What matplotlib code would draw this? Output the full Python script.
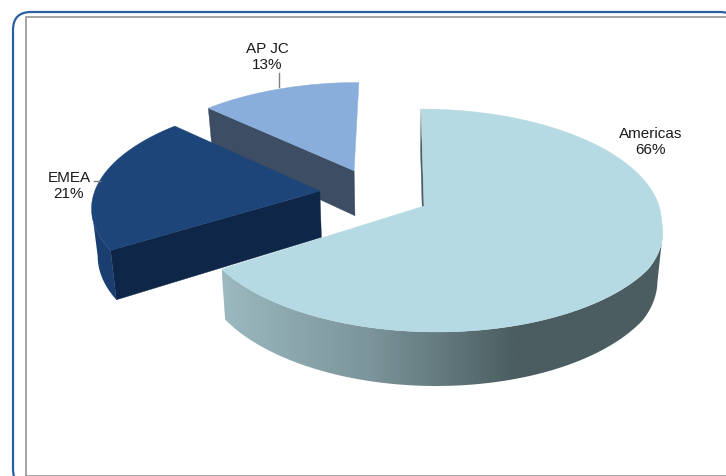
import matplotlib
matplotlib.use("Agg")
import matplotlib.pyplot as plt
from matplotlib.colors import LinearSegmentedColormap
from matplotlib.patches import FancyBboxPatch, Polygon, Rectangle
import numpy as np

plt.rcParams['font.family'] = ['Liberation Sans', 'DejaVu Sans']

categories = ["Americas", "EMEA", "AP JC"]
shares = [66, 21, 13]
top_colors = ["#b5dae4", "#1d4579", "#89aedc"]
side_colors = [["#9bb9bf", "#7b959a", "#4b5d61", "#4b5d61"],
               ["#1a3f70", "#1a3f70"],
               ["#5d7596", "#5d7596"]]
cut_colors = ["#4b5d61", "#0e2748", "#3d4d63"]
radius_scale = [1, 0.975, 0.985]
left_bend = [22, 0, 0]

# perspective model of the pie, in picture pixels
VX, VY = 398, -636
BASE_X, BASE_Y = 424, 207
RX, K, DEPTH, SQUEEZE = 235, 0.13, 47, 0.98
EXPLODE = 0.24


def project(X, Y):
    s = 1 / (1 + K * Y)
    x = VX + (BASE_X - VX + RX * X) * s
    y = VY + (BASE_Y - VY) * s
    return x, y, s


def drop(x, y, s):
    return VX + (x - VX) * SQUEEZE, y + DEPTH * s


def gradient_fill(ax, xs, ys, colors, z):
    cmap = LinearSegmentedColormap.from_list("side", colors)
    grad = np.linspace(0, 1, 256).reshape(1, -1)
    im = ax.imshow(grad, cmap=cmap, aspect="auto", zorder=z,
                   extent=(xs.min(), xs.max(), ys.max(), ys.min()))
    patch = Polygon(np.column_stack([xs, ys]), closed=True, transform=ax.transData)
    im.set_clip_path(patch)


fig = plt.figure(figsize=(7.26, 4.77), dpi=100)
ax = fig.add_axes([0, 0, 1, 1])

# card frame
ax.add_patch(FancyBboxPatch((13, 13), 725, 475, boxstyle="round,pad=0,rounding_size=18",
                            fc="white", ec="#2a5fa3", lw=1.6))
ax.add_patch(Rectangle((26, 18), 800, 458.5, fc="white", ec="#8c8c8c", lw=1.1))

# centre of the whole pie, every slice is pushed out along its bisector
angles = np.cumsum([0] + shares) * 3.6
mid0 = np.radians((angles[0] + angles[1]) / 2)
OX = -EXPLODE * np.sin(mid0)
OY = -EXPLODE * np.cos(mid0)

for i in [2, 1, 0]:
    a0, a1 = angles[i], angles[i + 1]
    mid = np.radians((a0 + a1) / 2)
    cx = OX + EXPLODE * np.sin(mid)
    cy = OY + EXPLODE * np.cos(mid)
    z = 2 + 3 - i
    ax0, ay0, s0 = project(cx, cy)

    t = np.radians(np.linspace(a0, a1, 200))
    rx, ry, rs = project(cx + radius_scale[i] * np.sin(t), cy + radius_scale[i] * np.cos(t))
    rx = rx + left_bend[i] * np.clip(-np.cos(t) - 0.13, 0, 0.41)
    bx, by = drop(rx, ry, rs)
    bax, bay = drop(ax0, ay0, s0)

    # cut face
    xs = np.array([rx[0], ax0, bax, bx[0]])
    ys = np.array([ry[0], ay0, bay, by[0]])
    ax.add_patch(Polygon(np.column_stack([xs, ys]), fc=cut_colors[i], ec=cut_colors[i],
                         lw=0.3, zorder=z))

    # outer wall, from one side extreme of the rim to the other
    if i != 2:
        first = np.argmax(rx) if i == 0 else 0
        last = len(rx) if i == 0 else np.argmin(rx) + 1
        xs = np.concatenate([rx[first:last], bx[first:last][::-1]])
        ys = np.concatenate([ry[first:last], by[first:last][::-1]])
        gradient_fill(ax, xs, ys, side_colors[i], z)

    # top face
    verts = np.column_stack([np.r_[ax0, rx], np.r_[ay0, ry]])
    ax.add_patch(Polygon(verts, fc=top_colors[i], ec=top_colors[i], lw=0.3, zorder=z + 0.5))

# labels
label_pos = [(651, 142), (69, 186), (267, 57)]
for name, val, (lx, ly) in zip(categories, shares, label_pos):
    ax.text(lx, ly, f"{name}\n{val}%", ha="center", va="center", fontsize=11,
            color="#1a1a1a", linespacing=1.25, zorder=20)
ax.plot([279, 279], [74, 88], color="#7f7f7f", lw=1, zorder=20)
ax.plot([94, 100], [182, 182], color="#7f7f7f", lw=1, zorder=20)

ax.set_xlim(0, 726)
ax.set_ylim(477, 0)
ax.axis("off")
fig.savefig("out.png", dpi=100)
